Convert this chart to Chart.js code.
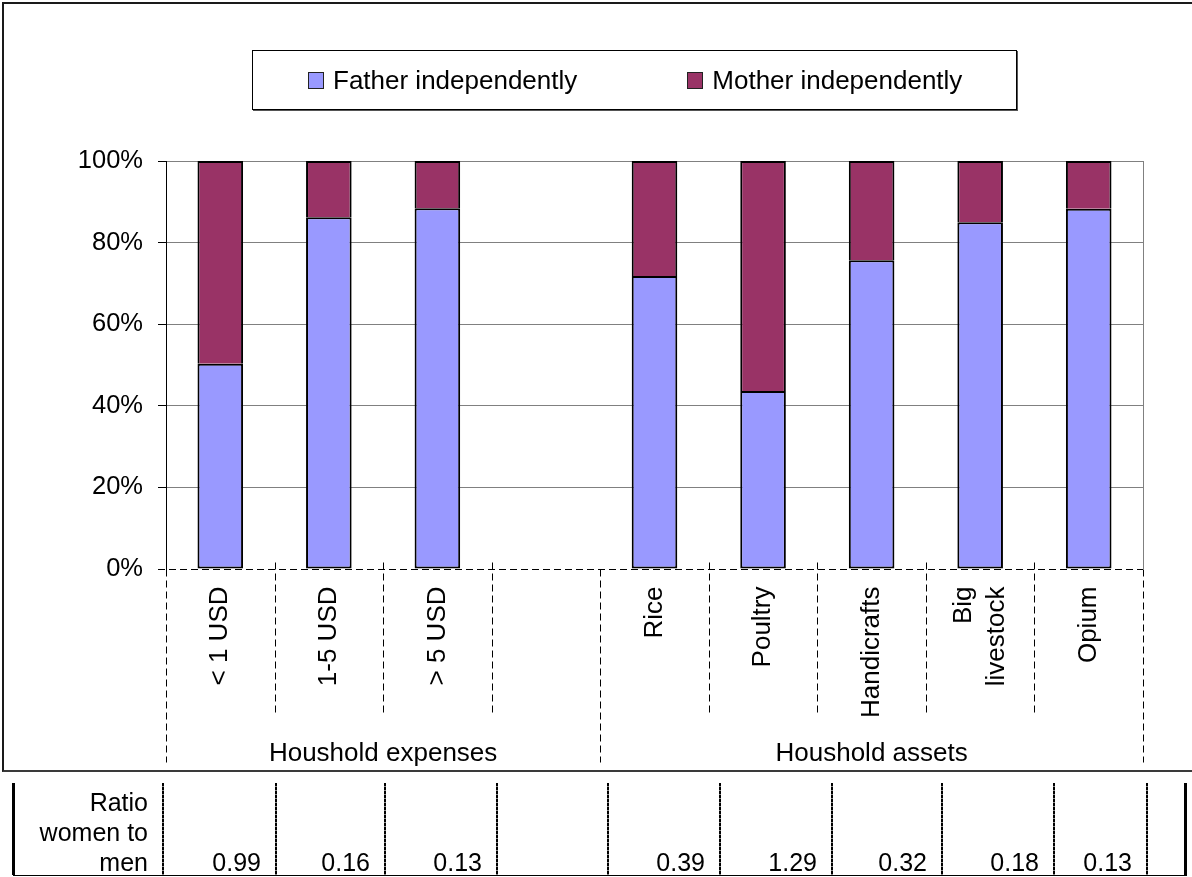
<!DOCTYPE html>
<html>
<head>
<meta charset="utf-8">
<script src="https://cdn.jsdelivr.net/npm/chart.js@4/dist/chart.umd.min.js"></script>
<style>
  html, body { margin: 0; padding: 0; background: #fff; }
  body { position: relative; width: 1192px; height: 877px; overflow: hidden;
         font-family: "Liberation Sans", Arial, sans-serif; color: #000; }
  #chart { position: absolute; left: 0; top: 0; }
  #frame { position: absolute; left: 2px; top: 2px; width: 1300px; height: 766px;
           border: 2px solid #1a1a1a; border-bottom-color: #3a3a3a; pointer-events: none; }
  #legend { position: absolute; left: 252px; top: 50px; width: 765px; height: 60px;
            border: 1px solid #000; box-shadow: 1px 1px 0 #555; background: #fff;
            display: flex; align-items: center; padding-left: 55px; box-sizing: border-box;
            gap: 110px; font-size: 26px; }
  .lg-item { display: flex; align-items: center; white-space: nowrap; }
  .lg-box { width: 16px; height: 17px; box-sizing: border-box; border: 1px solid #222;
            margin-right: 9px; }
  #ratio { position: absolute; left: 0; top: 0; width: 1192px; height: 877px; font-size: 25px; }
  .rt-line { position: absolute; top: 783px; height: 92px; }
  .rt-solid { width: 3px; background: #000; }
  .rt-dash { width: 2px; background: repeating-linear-gradient(to bottom, #000 0 3px, #888 3px 4px); }
  .rt-base { position: absolute; top: 875px; height: 1px; background: #000; }
  .rt-text { position: absolute; bottom: 0; line-height: 30px; text-align: right; box-sizing: border-box;
             padding-right: 15px; white-space: nowrap; }
</style>
</head>
<body>
<canvas id="chart" width="1192" height="772"></canvas>
<div id="frame"></div>
<div id="legend"></div>
<div id="ratio"></div>
<script>
// Categories along the x axis; an empty slot separates the two groups.
const categories = ['< 1 USD', '1-5 USD', '> 5 USD', '', 'Rice', 'Poultry', 'Handicrafts', ['Big', 'livestock'], 'Opium'];
// Group captions under the category labels and how many categories each spans.
const groupNames = ['Houshold expenses', 'Houshold assets'];
const groupSizes = [4, 5];
// Share of decisions (%) taken by each parent alone.
const fatherShare = [50.3, 86.2, 88.4, null, 71.8, 43.6, 75.7, 85.0, 88.3];
const motherShare = [49.7, 13.8, 11.6, null, 28.2, 56.4, 24.3, 15.0, 11.7];
// Ratio row printed under the chart.
const ratioLabel = ['Ratio', 'women to', 'men'];
const ratioWomenToMen = [0.99, 0.16, 0.13, null, 0.39, 1.29, 0.32, 0.18, 0.13];
// Value axis ticks.
const yTickValues = [0, 20, 40, 60, 80, 100];

const FONT = '"Liberation Sans", Arial, sans-serif';
const BLUE = '#9999FF';
const PLUM = '#993366';

// Draws the dashed baseline, category separators, rotated category names and group captions.
const categoryAxisDecor = {
  id: 'categoryAxisDecor',
  beforeDatasetsDraw(chart) {
    const {ctx, scales: {x, y}} = chart;
    ctx.save();
    ctx.strokeStyle = '#808080';
    ctx.lineWidth = 1;
    const xr = Math.round(x.right) + 0.5;
    ctx.beginPath();
    ctx.moveTo(xr, y.top);
    ctx.lineTo(xr, y.bottom);
    ctx.stroke();
    ctx.restore();
  },
  afterDraw(chart) {
    const {ctx, scales: {x, y}} = chart;
    const n = categories.length;
    const boundary = i => i === 0 ? x.left : i === n ? x.right
      : (x.getPixelForValue(i - 1) + x.getPixelForValue(i)) / 2;
    const y0 = Math.round(y.getPixelForValue(0)) + 0.5;

    ctx.save();
    ctx.strokeStyle = '#000';
    ctx.lineWidth = 1;
    ctx.setLineDash([7, 4]);
    ctx.beginPath();
    ctx.moveTo(x.left - 8, y0);
    ctx.lineTo(x.right, y0);
    ctx.stroke();

    const groupEdges = [0];
    groupSizes.forEach(s => groupEdges.push(groupEdges[groupEdges.length - 1] + s));
    for (let i = 0; i <= n; i++) {
      const px = Math.round(boundary(i)) + 0.5;
      ctx.beginPath();
      if (groupEdges.includes(i)) {
        ctx.moveTo(px, y0);
        ctx.lineTo(px, y0 + 193);
      } else {
        ctx.moveTo(px, y0 - 7);
        ctx.lineTo(px, y0 + 146);
      }
      ctx.stroke();
    }
    ctx.setLineDash([]);

    ctx.fillStyle = '#000';
    ctx.font = '26px ' + FONT;
    const lh = 33;
    categories.forEach((label, i) => {
      const lines = Array.isArray(label) ? label : [label];
      ctx.save();
      ctx.translate(x.getPixelForValue(i), y0 + 17);
      ctx.rotate(-Math.PI / 2);
      ctx.textAlign = 'right';
      ctx.textBaseline = 'middle';
      lines.forEach((t, k) => ctx.fillText(t, 0, (k - (lines.length - 1) / 2) * lh));
      ctx.restore();
    });

    ctx.textAlign = 'center';
    ctx.textBaseline = 'alphabetic';
    groupNames.forEach((g, k) => {
      const cx = (boundary(groupEdges[k]) + boundary(groupEdges[k + 1])) / 2;
      ctx.fillText(g, cx, y0 + 191);
    });
    ctx.restore();
  }
};

const chart = new Chart(document.getElementById('chart'), {
  type: 'bar',
  data: {
    labels: categories,
    datasets: [
      { label: 'Father independently', data: fatherShare, backgroundColor: BLUE, borderSkipped: false },
      { label: 'Mother independently', data: motherShare, backgroundColor: PLUM, borderSkipped: 'start' }
    ]
  },
  options: {
    responsive: false,
    devicePixelRatio: 1,
    animation: false,
    events: [],
    layout: { padding: { top: 161, right: 49, bottom: 0, left: 0 } },
    datasets: {
      bar: { borderColor: '#000000', borderWidth: 2, inflateAmount: 0,
             categoryPercentage: 1, barPercentage: 0.42 }
    },
    plugins: { legend: { display: false }, tooltip: { enabled: false } },
    scales: {
      x: {
        stacked: true,
        grid: { display: false, drawTicks: false },
        border: { display: false },
        ticks: { display: false },
        afterFit: s => { s.height = 203; }
      },
      y: {
        stacked: true,
        min: 0,
        max: 100,
        afterBuildTicks: s => { s.ticks = yTickValues.map(v => ({ value: v })); },
        ticks: {
          callback: v => v + '%',
          color: '#000',
          font: { family: FONT, size: 25.5 },
          padding: 15
        },
        grid: {
          color: c => (c.tick && c.tick.value === 0) ? 'rgba(0,0,0,0)' : '#808080',
          tickColor: c => (c.tick && c.tick.value === 0) ? 'rgba(0,0,0,0)' : '#000',
          tickLength: 8,
          lineWidth: 1
        },
        border: { color: '#000', width: 1 },
        afterFit: s => { s.width = 166; }
      }
    }
  },
  plugins: [categoryAxisDecor]
});

// Legend built from the chart's own dataset entries.
const legendEl = document.getElementById('legend');
Chart.defaults.plugins.legend.labels.generateLabels(chart).forEach(item => {
  const el = document.createElement('div');
  el.className = 'lg-item';
  const box = document.createElement('span');
  box.className = 'lg-box';
  box.style.background = item.fillStyle;
  const txt = document.createElement('span');
  txt.textContent = item.text;
  el.appendChild(box);
  el.appendChild(txt);
  legendEl.appendChild(el);
});

// Ratio row under the chart.
const ratioEl = document.getElementById('ratio');
const colEdges = [13, 163, 276, 385, 497, 608, 720, 832, 942, 1054, 1147, 1185];
colEdges.forEach((px, i) => {
  const line = document.createElement('div');
  const solid = i === 0 || i === colEdges.length - 1;
  line.className = 'rt-line ' + (solid ? 'rt-solid' : 'rt-dash');
  line.style.left = (px - 1) + 'px';
  ratioEl.appendChild(line);
});
const base = document.createElement('div');
base.className = 'rt-base';
base.style.left = colEdges[0] + 'px';
base.style.width = (colEdges[colEdges.length - 1] - colEdges[0] + 2) + 'px';
ratioEl.appendChild(base);

const head = document.createElement('div');
head.className = 'rt-text';
head.style.left = colEdges[0] + 'px';
head.style.width = (colEdges[1] - colEdges[0]) + 'px';
head.innerHTML = ratioLabel.join('<br>');
ratioEl.appendChild(head);

ratioWomenToMen.forEach((r, i) => {
  if (r === null) return;
  const cell = document.createElement('div');
  cell.className = 'rt-text';
  cell.style.left = colEdges[i + 1] + 'px';
  cell.style.width = (colEdges[i + 2] - colEdges[i + 1]) + 'px';
  cell.textContent = r.toFixed(2);
  ratioEl.appendChild(cell);
});
</script>
</body>
</html>
